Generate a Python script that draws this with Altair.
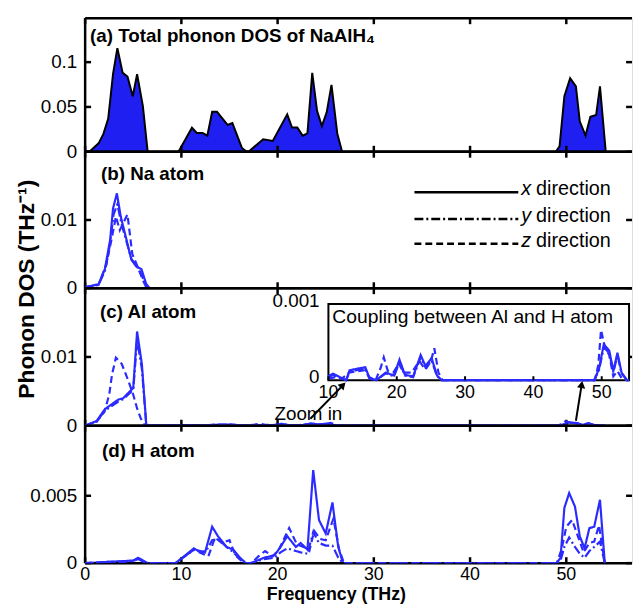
import altair as alt
import pandas as pd

FONT = "Liberation Sans"
FILL_BLUE = "#1f1ff2"
LINE_BLUE = "#2b2bff"

# ---------------- data ----------------
# (a) total phonon DOS
TOT_F = [0.0, 0.5, 1.4, 1.9, 2.4, 2.9, 3.35, 3.9, 4.4, 4.95, 5.4, 6.0, 6.5, 9.7, 11.1, 11.6,
         12.2, 12.7, 13.2, 13.7, 14.8, 15.3, 16.3, 16.8, 17.1, 18.5, 19.5, 21.0, 21.5, 22.05,
         22.6, 23.1, 23.6, 24.1, 24.6, 25.1, 25.6, 26.2, 26.7, 48.9, 49.3, 49.8, 50.4, 51.0,
         51.4, 52.0, 52.5, 53.1, 53.5, 54.1]
TOT_V = [0.0, 0.0007, 0.0094, 0.020, 0.037, 0.087, 0.1156, 0.088, 0.084, 0.062, 0.0866, 0.051,
         0.0, 0.0, 0.0268, 0.021, 0.021, 0.018, 0.0446, 0.0446, 0.030, 0.032, 0.004, 0.0, 0.001,
         0.014, 0.012, 0.0417, 0.027, 0.027, 0.018, 0.0205, 0.088, 0.0457, 0.0286, 0.044, 0.0746,
         0.0205, 0.0, 0.0, 0.006, 0.062, 0.082, 0.073, 0.034, 0.018, 0.039, 0.041, 0.073, 0.0]

# (b) Na atom
NA_X_F = [0.0, 0.2, 1.4, 2.05, 2.6, 2.9, 3.3, 3.7, 4.3, 4.8, 5.3, 5.85, 6.35, 6.7, 54.0]
NA_X_V = [0.0, 0.0002, 0.0006, 0.0028, 0.0071, 0.0117, 0.0139, 0.0105, 0.0071, 0.0042, 0.0032,
          0.0028, 0.0006, 0.0, 0.0]
NA_Y_F = [0.0, 0.2, 1.4, 2.1, 2.6, 2.95, 3.35, 3.75, 4.3, 4.8, 5.3, 5.8, 6.3, 6.7, 54.0]
NA_Y_V = [0.0, 0.0002, 0.0005, 0.0027, 0.0066, 0.0108, 0.0123, 0.0096, 0.0068, 0.0043, 0.0034,
          0.0022, 0.0004, 0.0, 0.0]
NA_Z_F = [0.0, 0.2, 1.4, 2.2, 2.75, 3.2, 3.6, 4.4, 4.9, 5.5, 6.0, 6.4, 54.0]
NA_Z_V = [0.0, 0.0002, 0.0005, 0.0035, 0.0072, 0.0105, 0.0085, 0.0108, 0.005, 0.003, 0.0012,
          0.0, 0.0]

# (c) Al atom
AL_X_F = [0.0, 0.2, 1.2, 2.05, 3.45, 3.95, 5.0, 5.4, 5.9, 6.35, 6.5, 9.3, 10.0, 10.7, 11.9, 12.6,
          13.1, 14.5, 15.4, 16.0, 17.0, 18.4, 19.6, 20.4, 21.2, 22.4, 23.5, 24.2, 25.1, 25.9,
          26.6, 48.9, 49.6, 50.3, 51.1, 51.7, 52.3, 52.9, 53.7, 54.0]
AL_X_V = [0.0, 0.0001, 0.0007, 0.0024, 0.0038, 0.004, 0.0055, 0.0137, 0.0089, 0.0002, 0.0, 0.0,
          0.000056, 0.000086, 0.00003, 0.0, 0.00013, 0.000156, 0.00017, 0.00003, 0.0, 0.0001,
          0.00006, 0.00027, 0.00007, 0.00005, 0.00033, 0.000186, 0.00029, 0.00006, 0.0, 0.0,
          0.00015, 0.00047, 0.00039, 0.00012, 0.00036, 0.0001, 0.0, 0.0]
AL_Y_F = [0.0, 0.2, 1.2, 2.05, 3.45, 4.0, 5.0, 5.4, 5.9, 6.35, 6.5, 9.3, 10.0, 10.7, 11.9, 12.6,
          13.1, 14.5, 15.4, 16.0, 17.0, 18.4, 19.6, 20.4, 21.2, 22.4, 23.5, 24.2, 25.1, 25.9,
          26.6, 48.9, 49.6, 50.3, 51.1, 51.7, 52.3, 52.9, 53.7, 54.0]
AL_Y_V = [0.0, 0.0001, 0.0006, 0.0022, 0.0035, 0.0039, 0.0052, 0.0125, 0.0082, 0.0002, 0.0, 0.0,
          0.00004, 0.00007, 0.00002, 0.0, 0.00011, 0.00014, 0.00015, 0.00002, 0.0, 0.00009,
          0.00005, 0.00024, 0.00006, 0.00004, 0.0003, 0.00017, 0.00026, 0.00005, 0.0, 0.0,
          0.00013, 0.00043, 0.00036, 0.0001, 0.00033, 0.00009, 0.0, 0.0]
AL_Z_F = [0.0, 0.2, 1.2, 2.0, 2.5, 2.8, 3.2, 3.8, 4.5, 5.0, 5.4, 5.8, 6.2, 9.3, 10.0, 11.0, 12.0,
          13.0, 14.4, 15.3, 16.0, 16.9, 17.6, 18.1, 18.7, 19.5, 20.3, 21.0, 22.2, 23.3, 24.2,
          25.0, 25.5, 26.1, 26.7, 49.0, 49.5, 49.9, 50.5, 51.1, 51.7, 52.3, 52.9, 53.7, 54.0]
AL_Z_V = [0.0, 0.0001, 0.0006, 0.002, 0.0045, 0.0075, 0.0099, 0.009, 0.0065, 0.0045, 0.0025,
          0.001, 0.0, 0.0, 0.00002, 0.00004, 0.00002, 0.0001, 0.00012, 0.00013, 0.00004, 0.0,
          0.00015, 0.0003, 0.00012, 0.0001, 0.00022, 0.0001, 0.0001, 0.00025, 0.00014, 0.00025,
          0.00042, 0.0001, 0.0, 0.0, 0.0002, 0.00066, 0.00042, 0.00033, 0.00005, 0.00012,
          0.00003, 0.0, 0.0]

# (d) H atom
H_X_F = [0.0, 1.0, 2.5, 4.0, 5.0, 5.5, 6.0, 6.5, 9.4, 11.3, 12.0, 12.5, 13.2, 13.8, 14.7, 15.4,
         16.1, 16.7, 17.2, 18.6, 19.7, 20.3, 21.0, 21.9, 22.4, 23.1, 23.7, 24.3, 25.0, 25.7, 26.3,
         26.8, 49.0, 49.4, 49.8, 50.3, 50.9, 51.4, 51.9, 52.4, 52.9, 53.5, 54.0]
H_X_V = [0.0, 0.00003, 0.0001, 0.00015, 0.0002, 0.0004, 0.0002, 0.0, 0.0, 0.0011, 0.0008, 0.0009,
         0.0027, 0.002, 0.0012, 0.001, 0.0004, 0.0, 0.0, 0.0004, 0.0006, 0.0012, 0.002, 0.0012,
         0.0015, 0.001, 0.0069, 0.0032, 0.0022, 0.0045, 0.0012, 0.0, 0.0, 0.0004, 0.0041, 0.0052,
         0.0042, 0.002, 0.0011, 0.0026, 0.0027, 0.0047, 0.0]
H_Y_F = H_X_F
H_Y_V = [0.0, 0.00002, 0.00008, 0.0001, 0.00015, 0.0003, 0.00015, 0.0, 0.0, 0.001, 0.0009, 0.0008,
         0.0017, 0.0018, 0.0012, 0.0008, 0.0003, 0.0, 0.0, 0.0003, 0.0004, 0.0008, 0.0011, 0.0009,
         0.0008, 0.0007, 0.0023, 0.0015, 0.0013, 0.0013, 0.0004, 0.0, 0.0, 0.0002, 0.0012, 0.0019,
         0.0012, 0.0007, 0.0004, 0.0009, 0.0012, 0.0016, 0.0]
H_Z_F = [0.0, 1.0, 2.5, 4.0, 5.0, 5.6, 6.1, 6.5, 9.4, 11.3, 12.2, 12.8, 13.5, 14.2, 15.0, 15.6,
         16.5, 17.3, 18.0, 18.7, 19.5, 20.2, 21.2, 22.0, 22.7, 23.3, 23.8, 24.4, 25.0, 25.8, 26.4,
         26.9, 49.0, 49.5, 50.0, 50.6, 51.2, 51.8, 52.4, 52.9, 53.4, 54.0]
H_Z_V = [0.0, 0.00003, 0.0001, 0.00012, 0.00018, 0.0003, 0.0001, 0.0, 0.0, 0.001, 0.0007, 0.0005,
         0.0019, 0.0015, 0.0017, 0.0006, 0.0, 0.0, 0.0005, 0.0009, 0.0005, 0.0011, 0.0026, 0.0014,
         0.0012, 0.0009, 0.0024, 0.0018, 0.0017, 0.0033, 0.001, 0.0, 0.0, 0.001, 0.0027, 0.0032,
         0.002, 0.0008, 0.0015, 0.0016, 0.0028, 0.0]

# ticks and tick labels
XTICKS = [0, 10, 20, 30, 40, 50]
XTICK_LABELS = ["0", "10", "20", "30", "40", "50"]
A_TICKS, A_LABELS = [0, 0.05, 0.1], ["0", "0.05", "0.1"]
B_TICKS, B_LABELS = [0, 0.01], ["0", "0.01"]
C_TICKS, C_LABELS = [0, 0.01], ["0", "0.01"]
D_TICKS, D_LABELS = [0, 0.005], ["0", "0.005"]
INSET_XTICKS = [10, 20, 30, 40, 50]
INSET_YTICKS = [0, 0.001]
INSET_YLABELS = ["0", "0.001"]
DIRS = ["x", "y", "z"]
DIR_LABELS = ["direction", "direction", "direction"]

# annotation anchors in panel (c) data units
ARROW_TAIL_F = [23.4, 51.0]
ARROW_TAIL_V = [0.00101, 0.00072]
ARROW_HEAD_F = [26.8, 51.6]
ARROW_HEAD_V = [0.0059, 0.006]
ARROW_ANGLE = [44, 9]
ZOOM_F, ZOOM_V = 23.2, 0.0017

# ---------------- layout constants ----------------
W = 553
XMAX = 56.83
HA, HB, HC, HD = 135, 138, 139, 139
TL = 6
DASH_RANGE = [[1, 0], [9, 3, 2, 3], [7, 4]]


def long_df(series):
    rows = []
    for d, (fs, vs) in series.items():
        for f, v in zip(fs, vs):
            rows.append({"f": f, "v": v, "dir": d})
    return pd.DataFrame(rows)


def xsc():
    return alt.Scale(domain=[0, XMAX], nice=False, zero=False)


def ysc(dom):
    return alt.Scale(domain=dom, nice=False, zero=False)


dash_enc = alt.StrokeDash("dir:N", scale=alt.Scale(domain=DIRS, range=DASH_RANGE), legend=None)


def line_layers(df, ydom):
    """solid (x) series under the frame, broken (y, z) series over it"""
    under = alt.Chart(df).transform_filter("datum.dir == 'x'").mark_line(
        color=LINE_BLUE, strokeWidth=2.2, clip=True).encode(
        x=alt.X("f:Q", scale=xsc(), axis=None), y=alt.Y("v:Q", scale=ysc(ydom), axis=None),
        strokeDash=dash_enc)
    over = alt.Chart(df).transform_filter("datum.dir != 'x'").mark_line(
        color=LINE_BLUE, strokeWidth=2.2, clip=True).encode(
        x=alt.X("f:Q", scale=xsc(), axis=None), y=alt.Y("v:Q", scale=ysc(ydom), axis=None),
        strokeDash=dash_enc)
    return under, over


def frame_layers(H, yticks, ylabels, ydom):
    xt = pd.DataFrame({"t": XTICKS})
    yt = pd.DataFrame({"t": yticks, "s": ylabels})
    one = pd.DataFrame({"k": [0]})
    rule = dict(color="black", strokeWidth=2.5)
    out = []
    for y0, y1 in [(H, H - TL), (0, TL)]:
        out.append(alt.Chart(xt).mark_rule(**rule).encode(
            x=alt.X("t:Q", scale=xsc(), axis=None), y=alt.value(y0), y2=alt.value(y1)))
    for x0, x1 in [(0, TL), (W - TL, W)]:
        out.append(alt.Chart(yt).mark_rule(**rule).encode(
            y=alt.Y("t:Q", scale=ysc(ydom), axis=None), x=alt.value(x0), x2=alt.value(x1)))
    out.append(alt.Chart(one).mark_rule(**rule).encode(
        x=alt.value(0), y=alt.value(0), y2=alt.value(H)))
    out.append(alt.Chart(one).mark_rule(**rule).encode(
        x=alt.value(0), x2=alt.value(W), y=alt.value(0)))
    out.append(alt.Chart(one).mark_rule(**rule).encode(
        x=alt.value(0), x2=alt.value(W), y=alt.value(H)))
    out.append(alt.Chart(yt).mark_text(
        align="right", baseline="middle", font=FONT, fontSize=19, color="black").encode(
        y=alt.Y("t:Q", scale=ysc(ydom), axis=None), x=alt.value(-8), text="s:N"))
    return out


def label_layer(text, x, y):
    return alt.Chart(pd.DataFrame({"t": [text]})).mark_text(
        align="left", baseline="middle", font=FONT, fontSize=19, fontWeight="bold",
        color="black").encode(x=alt.value(x), y=alt.value(y), text="t:N")


# ---------------- panel (a) ----------------
A_DOM = [0, 0.149]
tot_df = pd.DataFrame({"f": TOT_F, "v": TOT_V})
area_a = alt.Chart(tot_df).mark_area(
    color=FILL_BLUE, opacity=1, clip=True, line={"color": "black", "strokeWidth": 2}
).encode(
    x=alt.X("f:Q", scale=xsc(), axis=None),
    y=alt.Y("v:Q", scale=ysc(A_DOM), axis=None),
)
panel_a = alt.layer(
    area_a, label_layer("(a) Total phonon DOS of NaAlH\u2084", 5, 18),
    *frame_layers(HA, A_TICKS, A_LABELS, A_DOM)
).properties(width=W, height=HA)

# ---------------- panel (b) ----------------
B_DOM = [0, 0.02]
na_df = long_df({"x": (NA_X_F, NA_X_V), "y": (NA_Y_F, NA_Y_V), "z": (NA_Z_F, NA_Z_V)})
b_under, b_over = line_layers(na_df, B_DOM)
legend_layers = []
LEG_Y = [41, 68, 93]
for i, d in enumerate(DIRS):
    one = pd.DataFrame({"k": [0]})
    legend_layers.append(alt.Chart(one).mark_rule(color="black", strokeWidth=2.5, strokeCap="butt",
                                                   strokeDash=DASH_RANGE[i]).encode(
        x=alt.value(333), x2=alt.value(438), y=alt.value(LEG_Y[i])))
    legend_layers.append(alt.Chart(pd.DataFrame({"t": [d]})).mark_text(
        align="left", baseline="middle", font=FONT, fontSize=20, fontStyle="italic",
        color="black").encode(x=alt.value(441), y=alt.value(LEG_Y[i] - 3), text="t:N"))
    legend_layers.append(alt.Chart(pd.DataFrame({"t": [DIR_LABELS[i]]})).mark_text(
        align="left", baseline="middle", font=FONT, fontSize=20, color="black").encode(
        x=alt.value(456), y=alt.value(LEG_Y[i] - 3), text="t:N"))
ytitle = alt.Chart(pd.DataFrame({"t": ["Phonon DOS (THz\u207b\u00b9)"]})).mark_text(
    align="center", baseline="middle", font=FONT, fontSize=23, fontWeight="bold", angle=270,
    color="black").encode(x=alt.value(-59), y=alt.value(HB + 1), text="t:N")
panel_b = alt.layer(
    b_under, *legend_layers, label_layer("(b) Na atom", 16, 23), ytitle,
    *frame_layers(HB, B_TICKS, B_LABELS, B_DOM), b_over
).properties(width=W, height=HB)

# ---------------- panel (c) ----------------
C_DOM = [0, 0.02]
al_df = long_df({"x": (AL_X_F, AL_X_V), "y": (AL_Y_F, AL_Y_V), "z": (AL_Z_F, AL_Z_V)})
c_under, c_over = line_layers(al_df, C_DOM)
arrow_df = pd.DataFrame({"tf": ARROW_TAIL_F, "tv": ARROW_TAIL_V, "hf": ARROW_HEAD_F,
                         "hv": ARROW_HEAD_V, "ang": ARROW_ANGLE})
arrows = alt.Chart(arrow_df).mark_rule(color="black", strokeWidth=2).encode(
    x=alt.X("tf:Q", scale=xsc(), axis=None), y=alt.Y("tv:Q", scale=ysc(C_DOM), axis=None),
    x2="hf:Q", y2="hv:Q")
heads = alt.Chart(arrow_df).mark_point(shape="triangle-up", filled=True, size=70, color="black",
                                       opacity=1).encode(
    x=alt.X("hf:Q", scale=xsc(), axis=None), y=alt.Y("hv:Q", scale=ysc(C_DOM), axis=None),
    angle=alt.Angle("ang:Q", scale=None))
zoom_txt = alt.Chart(pd.DataFrame({"f": [ZOOM_F], "v": [ZOOM_V], "t": ["Zoom in"]})).mark_text(
    align="center", baseline="middle", font=FONT, fontSize=19, color="black").encode(
    x=alt.X("f:Q", scale=xsc(), axis=None), y=alt.Y("v:Q", scale=ysc(C_DOM), axis=None),
    text="t:N")
main_c = alt.layer(c_under, arrows, heads, zoom_txt, label_layer("(c) Al atom", 15, 24),
                   *frame_layers(HC, C_TICKS, C_LABELS, C_DOM), c_over)

IX = alt.Scale(domain=[10, 54], range=[246, 550], nice=False, zero=False)
IY = alt.Scale(domain=[0, 0.001], range=[93, 16], nice=False, zero=False)
box = alt.Chart(pd.DataFrame({"x0": [10], "x1": [54], "y0": [0], "y1": [0.001]})).mark_rect(
    fill="white", stroke="black", strokeWidth=2).encode(
    x=alt.X("x0:Q", scale=IX, axis=None), x2="x1:Q",
    y=alt.Y("y0:Q", scale=IY, axis=None), y2="y1:Q")
inset_title = alt.Chart(pd.DataFrame({"t": ["Coupling between Al and H atom"]})).mark_text(
    align="left", baseline="middle", font=FONT, fontSize=19.5, color="black").encode(
    x=alt.value(250), y=alt.value(29), text="t:N")
inset_lines = alt.Chart(al_df).transform_filter("datum.f >= 10").mark_line(
    color=LINE_BLUE, strokeWidth=2.2).encode(
    x=alt.X("f:Q", scale=IX, axis=None), y=alt.Y("v:Q", scale=IY, axis=None), strokeDash=dash_enc)
inset_ticks = alt.Chart(pd.DataFrame({"t": INSET_XTICKS})).mark_rule(
    color="black", strokeWidth=2).encode(
    x=alt.X("t:Q", scale=IX, axis=None), y=alt.value(93), y2=alt.value(89))
inset_xlab = alt.Chart(pd.DataFrame({"t": INSET_XTICKS})).mark_text(
    align="center", baseline="top", font=FONT, fontSize=18, color="black", dy=4).encode(
    x=alt.X("t:Q", scale=IX, axis=None), y=alt.value(93), text="t:Q")
inset_ylab = alt.Chart(pd.DataFrame({"t": INSET_YTICKS, "s": INSET_YLABELS})).mark_text(
    align="right", baseline="middle", font=FONT, fontSize=19, color="black", dy=-3).encode(
    y=alt.Y("t:Q", scale=IY, axis=None), x=alt.value(237), text="s:N")
inset_c = alt.layer(box, inset_title, inset_lines, inset_ticks, inset_xlab, inset_ylab)

panel_c = alt.layer(main_c, inset_c).resolve_scale(
    x="independent", y="independent").properties(width=W, height=HC)

# ---------------- panel (d) ----------------
D_DOM = [0, 0.0102]
h_df = long_df({"x": (H_X_F, H_X_V), "y": (H_Y_F, H_Y_V), "z": (H_Z_F, H_Z_V)})
d_under, d_over = line_layers(h_df, D_DOM)
xlab_d = alt.Chart(pd.DataFrame({"t": XTICKS, "s": XTICK_LABELS})).mark_text(
    align="center", baseline="top", font=FONT, fontSize=18, color="black").encode(
    x=alt.X("t:Q", scale=xsc(), axis=None), y=alt.value(HD + 3), text="s:N")
xtitle = alt.Chart(pd.DataFrame({"t": ["Frequency (THz)"]})).mark_text(
    align="center", baseline="top", font=FONT, fontSize=18, fontWeight="bold",
    color="black").encode(x=alt.value(254), y=alt.value(HD + 23), text="t:N")
panel_d = alt.layer(
    d_under, label_layer("(d) H atom", 17, 26), xlab_d, xtitle,
    *frame_layers(HD, D_TICKS, D_LABELS, D_DOM), d_over
).properties(width=W, height=HD)

chart = alt.vconcat(panel_a, panel_b, panel_c, panel_d, spacing=0, bounds="flush").properties(
    padding={"left": 7, "top": 5, "right": 0, "bottom": 0}
).configure_view(stroke=None).configure(font=FONT)

chart.save("out.html", embed_options={"renderer": "svg", "actions": False})
